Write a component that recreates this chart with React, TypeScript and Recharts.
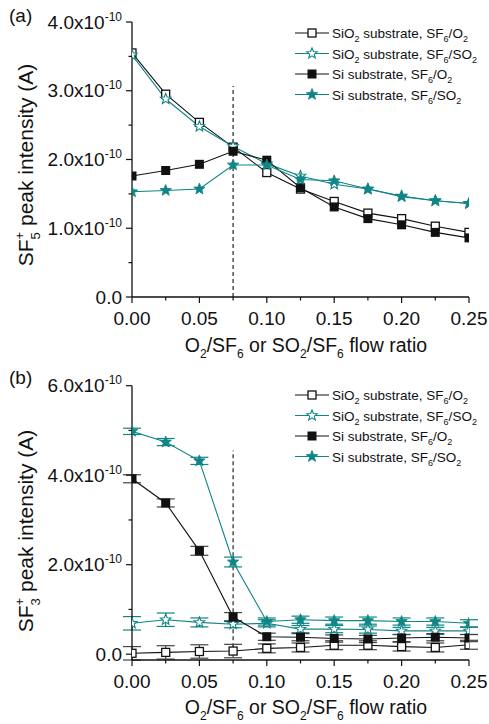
import React from 'react'
import { LineChart, Line, XAxis, YAxis, ReferenceLine, ErrorBar } from 'recharts'

const INK = '#111111'
const TEAL = '#108585'
const FONT = '"Liberation Sans", Arial, Helvetica, sans-serif'

// O2/SF6 or SO2/SF6 flow ratio
const ratio = [0, 0.025, 0.05, 0.075, 0.1, 0.125, 0.15, 0.175, 0.2, 0.225, 0.25]

// (a) SF5+ peak intensity, in units of 1e-10 A
const sf5SiO2O2 = [3.55, 2.95, 2.54, 2.18, 1.81, 1.57, 1.39, 1.22, 1.14, 1.03, 0.94]
const sf5SiO2SO2 = [3.52, 2.88, 2.48, 2.19, 1.94, 1.76, 1.64, 1.57, 1.47, 1.40, 1.36]
const sf5SiO2 = [1.76, 1.84, 1.93, 2.12, 1.99, 1.59, 1.31, 1.14, 1.05, 0.94, 0.86]
const sf5SiSO2 = [1.53, 1.55, 1.57, 1.92, 1.92, 1.71, 1.69, 1.57, 1.46, 1.40, 1.36]

// (b) SF3+ peak intensity, in units of 1e-10 A, with error bars
const sf3SiO2O2 = [0.02, 0.04, 0.06, 0.07, 0.13, 0.15, 0.20, 0.20, 0.17, 0.15, 0.21]
const sf3SiO2SO2 = [0.69, 0.77, 0.71, 0.67, 0.69, 0.56, 0.56, 0.55, 0.52, 0.52, 0.52]
const sf3SiO2 = [3.92, 3.38, 2.31, 0.83, 0.39, 0.38, 0.35, 0.34, 0.36, 0.38, 0.36]
const sf3SiSO2 = [4.98, 4.74, 4.32, 2.06, 0.73, 0.77, 0.75, 0.75, 0.73, 0.73, 0.69]
const sf3SiO2O2Err = [0.15, 0.15, 0.15, 0.15, 0.1, 0.1, 0.1, 0.1, 0.1, 0.1, 0.1]
const sf3SiO2SO2Err = [0.15, 0.15, 0.1, 0.08, 0.08, 0.08, 0.08, 0.08, 0.08, 0.08, 0.08]
const sf3SiO2Err = [0.09, 0.09, 0.1, 0.1, 0.08, 0.08, 0.08, 0.08, 0.08, 0.08, 0.08]
const sf3SiSO2Err = [0.07, 0.08, 0.08, 0.11, 0.08, 0.08, 0.08, 0.08, 0.08, 0.08, 0.08]

const yTicksA = [0, 0.5, 1, 1.5, 2, 2.5, 3, 3.5, 4]
const yTicksB = [0, 1, 2, 3, 4, 5, 6]

const legendLabels = [
  'SiO_2 substrate, SF_6/O_2',
  'SiO_2 substrate, SF_6/SO_2',
  'Si substrate, SF_6/O_2',
  'Si substrate, SF_6/SO_2',
]

const SERIES = [
  { key: 's1', color: INK, marker: 'openSquare', errColor: '#444' },
  { key: 's2', color: TEAL, marker: 'openStar', errColor: TEAL },
  { key: 's3', color: INK, marker: 'square', errColor: '#444' },
  { key: 's4', color: TEAL, marker: 'star', errColor: TEAL },
]

const rowsA = ratio.map((x, i) => ({
  x, s1: sf5SiO2O2[i], s2: sf5SiO2SO2[i], s3: sf5SiO2[i], s4: sf5SiSO2[i],
}))
const rowsB = ratio.map((x, i) => ({
  x, s1: sf3SiO2O2[i], s2: sf3SiO2SO2[i], s3: sf3SiO2[i], s4: sf3SiSO2[i],
  e1: sf3SiO2O2Err[i], e2: sf3SiO2SO2Err[i], e3: sf3SiO2Err[i], e4: sf3SiSO2Err[i],
}))

// "_x" -> subscript, "^x" -> superscript
function Rich({ text, size, small }: { text: string; size: number; small: number }) {
  const out: any[] = []
  let cur = 0
  let prev = ''
  let run = ''
  const flush = () => {
    if (!run) return
    out.push(<tspan key={out.length} dy={-cur} fontSize={size}>{run}</tspan>)
    cur = 0
    run = ''
  }
  for (let i = 0; i < text.length; i++) {
    const ch = text[i]
    if (ch === '_' || ch === '^') {
      flush()
      const target = ch === '_' ? size * 0.32 : -size * 0.42
      const dx = ch === '^' && prev === '_' ? -small * 0.56 : 0
      out.push(<tspan key={out.length} dx={dx} dy={target - cur} fontSize={small}>{text[i + 1]}</tspan>)
      cur = target
      prev = ch
      i++
    } else {
      if (cur !== 0 && !run) {
        out.push(<tspan key={out.length} dy={-cur} fontSize={size}>{ch}</tspan>)
        cur = 0
      } else run += ch
      prev = ''
    }
  }
  flush()
  return <>{out}</>
}

function starPoints(cx: number, cy: number, R: number, r: number) {
  const pts: string[] = []
  for (let k = 0; k < 10; k++) {
    const a = -Math.PI / 2 + (k * Math.PI) / 5
    const rad = k % 2 === 0 ? R : r
    pts.push(`${cx + rad * Math.cos(a)},${cy + rad * Math.sin(a)}`)
  }
  return pts.join(' ')
}

function Marker({ cx, cy, kind, color }: { cx: number; cy: number; kind: string; color: string }) {
  if (cx == null || cy == null) return null
  if (kind === 'openSquare')
    return <rect x={cx - 4} y={cy - 4} width={8} height={8} fill="#fff" stroke={color} strokeWidth={1.3} />
  if (kind === 'square') return <rect x={cx - 4.5} y={cy - 4.5} width={9} height={9} fill={color} />
  if (kind === 'openStar')
    return <polygon points={starPoints(cx, cy, 5.5, 2.4)} fill="#fff" stroke={color} strokeWidth={1.1} />
  return <polygon points={starPoints(cx, cy, 6, 2.6)} fill={color} stroke={color} strokeWidth={0.8} />
}

function XTick({ x, y, payload }: any) {
  const v = payload.value
  const major = Math.round(v * 1000) % 50 === 0
  return (
    <g>
      <line x1={x} x2={x} y1={y} y2={y + (major ? 6 : 3.5)} stroke={INK} strokeWidth={1.2} />
      {major && (
        <text x={x} y={y + 28} textAnchor="middle" fontSize={19} fontFamily={FONT} fill={INK}>
          {v.toFixed(2)}
        </text>
      )}
    </g>
  )
}

function makeYTick(majorStep: number) {
  return function YTick({ x, y, payload }: any) {
    const v = payload.value
    const major = Math.abs(v / majorStep - Math.round(v / majorStep)) < 1e-6
    return (
      <g>
        <line x1={x} x2={x - (major ? 6 : 3.5)} y1={y} y2={y} stroke={INK} strokeWidth={1.2} />
        {major && (
          <text x={x - 10} y={y + 6.5} textAnchor="end" fontSize={19} fontFamily={FONT} fill={INK}>
            {v === 0 ? '0.0' : (
              <>
                <tspan>{v.toFixed(1) + 'x10'}</tspan>
                <tspan dy={-8} fontSize={12}>-10</tspan>
              </>
            )}
          </text>
        )}
      </g>
    )
  }
}

function Overlay({ tag, ion, titleY }: { tag: string; ion: string; titleY: number }) {
  return (
    <svg width={489} height={362} style={{ position: 'absolute', left: 0, top: 0, pointerEvents: 'none' }}>
      <text x={9} y={22} fontSize={19} fontFamily={FONT} fill={INK}>{tag}</text>
      <text
        transform={`translate(33 ${titleY}) rotate(-90)`}
        textAnchor="middle" fontFamily={FONT} fill={INK}
      >
        <Rich text={`SF_${ion}^+ peak intensity (A)`} size={21} small={13} />
      </text>
      <text x={306} y={351.5} textAnchor="middle" fontFamily={FONT} fill={INK}>
        <Rich text="O_2/SF_6 or SO_2/SF_6 flow ratio" size={19.5} small={12} />
      </text>
      {SERIES.map((s, i) => {
        const ry = 33 + i * 20.5
        return (
          <g key={s.key}>
            <line x1={295} x2={329} y1={ry} y2={ry} stroke={s.color} strokeWidth={1.2} />
            <Marker cx={312} cy={ry} kind={s.marker} color={s.color} />
            <text x={332} y={ry + 5} fontFamily={FONT} fill={INK}>
              <Rich text={legendLabels[i]} size={13.5} small={9} />
            </text>
          </g>
        )
      })}
    </svg>
  )
}

function Panel({ rows, yMax, yTicks, majorStep, top, dashTop, withErr, tag, ion, titleY }: any) {
  const YTick = makeYTick(majorStep)
  return (
    <div style={{ position: 'relative', width: 489, height: 362 }}>
      <LineChart width={489} height={362} data={rows} margin={{ top, right: 20, bottom: 0, left: 0 }}>
        <XAxis
          type="number" dataKey="x" domain={[0, 0.25]} ticks={ratio} interval={0}
          tickSize={0} tickMargin={0} tick={<XTick />} height={362 - top - (top > 23 ? 274.3 : 275)}
          stroke={INK} strokeWidth={1.3} allowDataOverflow
        />
        <YAxis
          type="number" domain={[0, yMax]} ticks={yTicks} interval={0} width={132}
          tickSize={0} tickMargin={0} tick={<YTick />} stroke={INK} strokeWidth={1.3}
        />
        <ReferenceLine
          segment={[{ x: 0.075, y: 0 }, { x: 0.075, y: dashTop }]}
          stroke={INK} strokeDasharray="4 3" strokeWidth={1.1}
        />
        {SERIES.map((s, i) => (
          <Line
            key={s.key} dataKey={s.key} stroke={s.color} strokeWidth={1.1}
            isAnimationActive={false}
            dot={(p: any) => <Marker key={p.index} cx={p.cx} cy={p.cy} kind={s.marker} color={s.color} />}
            activeDot={false}
          >
            {withErr && (
              <ErrorBar dataKey={`e${i + 1}`} width={9} stroke={s.errColor} strokeWidth={1.2} direction="y" />
            )}
          </Line>
        ))}
      </LineChart>
      <Overlay tag={tag} ion={ion} titleY={titleY} />
    </div>
  )
}

export default function App() {
  return (
    <div style={{ position: 'absolute', left: 0, top: 0, width: 489, height: 724, background: '#fff' }}>
      <Panel rows={rowsA} yMax={4} yTicks={yTicksA} majorStep={1} top={22} dashTop={3.07}
        withErr={false} tag="(a)" ion="5" titleY={165} />
      <Panel rows={rowsB} yMax={6} yTicks={yTicksB} majorStep={2} top={23.7} dashTop={4.55}
        withErr tag="(b)" ion="3" titleY={169} />
    </div>
  )
}
